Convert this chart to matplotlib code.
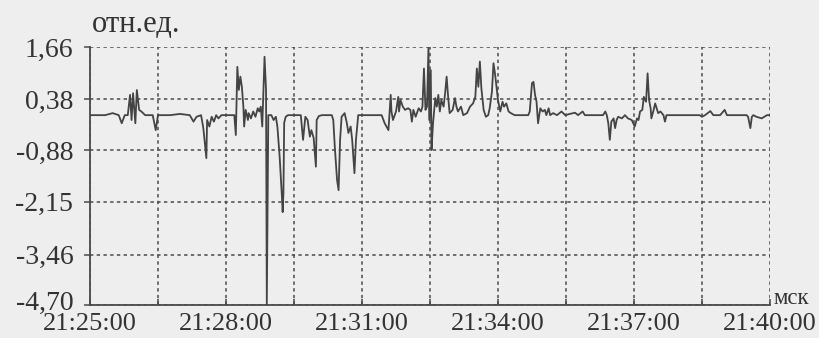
import matplotlib
matplotlib.use("Agg")
import matplotlib.pyplot as plt
from matplotlib.transforms import ScaledTranslation

# time in seconds after 21:25:00, value in relative units
t_sec = [0, 20, 30, 38, 42, 46, 50, 53, 55, 57, 60, 62, 65, 68, 73, 83, 87, 90, 106, 119, 132, 137, 141, 147, 150, 154, 155, 158, 161, 164, 167, 170, 174,
         191, 193, 195, 197, 199, 201, 203, 204, 206, 209, 210, 213, 216, 219, 222, 224, 226, 228, 231, 233, 234, 236, 240, 243, 246, 248, 251, 254, 255, 256, 257, 259, 262,
         279, 282, 285, 288, 291, 293, 296, 299, 300, 303, 307, 320, 322, 324, 327, 329, 331, 333, 337, 340, 342, 345, 347, 350, 352, 355,
         386, 390, 395, 398, 399, 401, 405, 408, 409, 411, 414, 417, 421, 424, 426, 428, 431, 435, 438, 440, 442, 444, 446, 448, 449, 451, 452, 454, 457, 459, 461, 463, 465, 468, 470, 472, 474, 476, 480, 483, 485, 487, 491, 494, 499,
         503, 507, 510, 512, 514, 516, 518, 521, 524, 527, 529, 532, 534, 536, 540, 543, 546, 548, 551, 554, 557, 562,
         580, 582, 585, 587, 589, 591, 593, 596, 599, 602, 604, 607, 609, 613, 618, 624, 629, 635, 642, 646, 652, 655,
         679, 682, 684, 686, 688, 690, 693, 695, 697, 699, 704, 708, 712, 717, 718, 721, 724, 726, 728, 731, 733, 736, 738, 740, 742, 743, 746, 748, 750, 752, 755, 759, 761, 763,
         807, 810, 814, 821, 825, 834, 840, 843, 869, 871, 874, 876, 878, 882, 889, 896, 900]
values = [-0.02, -0.02, 0.03, -0.02, -0.22, -0.02, -0.02, 0.48, -0.14, 0.52, -0.22, 0.60, 0.11, 0.07, -0.02, -0.02, -0.39, -0.02, -0.02, 0.01, -0.02, -0.18, -0.06, -0.02, -0.34, -1.08, -0.14, -0.30, -0.06, -0.18, -0.02, -0.10, -0.02,
          -0.02, -0.51, 1.17, 0.60, 0.93, 0.68, 0.19, -0.30, 0.11, -0.14, 0.03, -0.10, 0.07, -0.06, 0.15, 0.07, 0.19, -0.30, 1.42, 0.60, -4.68, -0.02, -0.02, -0.14, -0.06, -0.30, -1.04, -2.03, -2.41, -1.94, -0.21, -0.06, -0.02,
          -0.02, -0.63, -0.06, -0.14, -0.55, -0.39, -0.58, -1.29, -0.14, -0.04, -0.02, -0.02, -0.14, -0.80, -1.62, -1.87, -0.63, -0.06, 0.03, -0.22, -0.46, -0.30, -0.63, -1.45, -0.63, -0.02,
          -0.02, -0.22, -0.39, 0.48, 0.07, -0.14, 0.07, 0.43, 0.07, 0.35, 0.19, 0.11, 0.15, 0.11, -0.18, 0.11, -0.06, 0.15, 0.07, 0.19, 1.13, 0.11, 0.19, 1.66, -0.14, 1.09, -0.88, -0.22, 0.40, 0.19, 0.48, 0.07, 0.35, 0.19, 0.52, 0.93, 0.43, 0.03, 0.11, 0.40, 0.19, 0.07, 0.19, -0.02, 0.03,
          0.19, 0.27, 0.43, 1.13, 0.68, 1.30, 0.64, 0.11, -0.06, -0.02, 0.15, 0.56, 1.26, 1.01, 0.35, 0.07, 0.31, 0.19, 0.27, 0.07, 0.03, -0.02,
          -0.02, 0.07, 0.77, 0.80, 0.48, 0.31, -0.22, 0.15, 0.07, 0.11, -0.02, 0.15, -0.02, 0.03, -0.02, 0.07, -0.02, 0.01, 0.04, -0.02, 0.07, -0.02,
          -0.02, 0.07, -0.02, -0.22, -0.63, -0.18, -0.10, -0.34, -0.14, -0.06, -0.10, -0.02, -0.10, -0.14, -0.18, -0.30, -0.10, -0.14, 0.07, 0.11, 0.43, 0.31, 1.01, 0.35, 0.15, -0.10, 0.11, 0.27, 0.15, 0.03, 0.07, -0.02, -0.18, -0.02,
          -0.02, -0.06, -0.02, 0.08, -0.02, -0.02, 0.11, -0.02, -0.02, -0.06, -0.34, -0.06, -0.02, -0.06, -0.10, -0.02, -0.02]

y_ticks = [1.66, 0.38, -0.88, -2.15, -3.46, -4.70]
y_tick_labels = ["1,66", "0,38", "-0,88", "-2,15", "-3,46", "-4,70"]
x_ticks = [0, 90, 180, 270, 360, 450, 540, 630, 720, 810, 900]
x_tick_labels = ["21:25:00", "", "21:28:00", "", "21:31:00", "", "21:34:00", "", "21:37:00", "", "21:40:00"]
y_unit = "отн.ед."
x_unit = "мск"

plt.rcParams['font.family'] = ['Liberation Serif', 'DejaVu Serif']
bg = '#eeeeee'
ink = '#4a4a4a'

fig = plt.figure(figsize=(8.19, 3.38), dpi=100, facecolor=bg)
ax = fig.add_axes([90/819, 1-305/338, 680/819, 258/338], facecolor=bg)

ax.plot(t_sec, values, color='#444444', lw=1.3, zorder=3)

ax.set_xlim(0, 900)
ax.set_ylim(-4.70, 1.66)
ax.set_xticks(x_ticks)
ax.set_xticklabels(x_tick_labels)
ax.set_yticks(y_ticks)
ax.set_yticklabels(y_tick_labels)

ax.grid(True, color=ink, linestyle=(0, (2.2, 2.2)), lw=1.1, zorder=1)
for side in ['top', 'right']:
    ax.spines[side].set_visible(False)
for side in ['left', 'bottom']:
    ax.spines[side].set_color(ink)
    ax.spines[side].set_linewidth(1.3)

ax.tick_params(axis='y', direction='out', length=4, width=1.1, color=ink, labelsize=20, labelcolor='#333333', pad=8)
ax.tick_params(axis='x', direction='in', length=4, width=1.1, color=ink, labelsize=19, labelcolor='#333333', pad=5.5)

# lift the lowest y label a little, as in the reference
lowest = ax.get_yticklabels()[-1]
lowest.set_transform(lowest.get_transform() + ScaledTranslation(0, 5/100, fig.dpi_scale_trans))

fig.text(92/819, 1-32/338, y_unit, fontsize=22, color='#333333', ha='left', va='baseline')
fig.text(774/819, 1-299/338, x_unit, fontsize=16.5, color='#333333', ha='left', va='center')

fig.savefig("out.png", dpi=100, facecolor=bg)
